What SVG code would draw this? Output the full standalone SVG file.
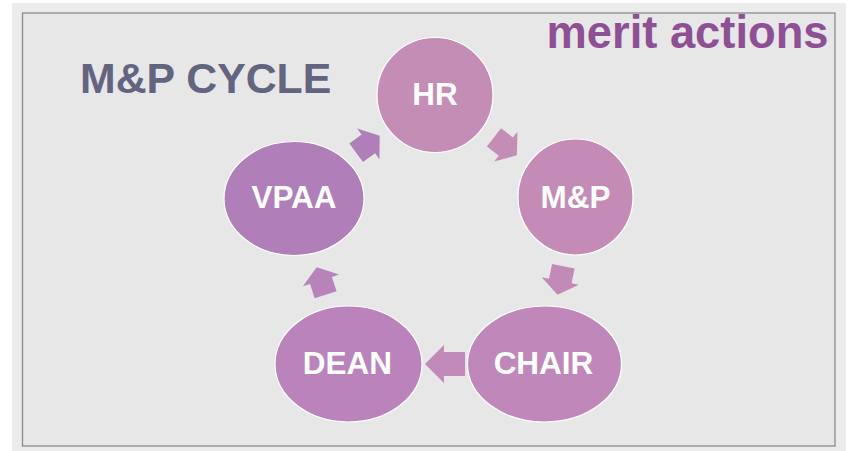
<svg xmlns="http://www.w3.org/2000/svg" width="850" height="451" viewBox="0 0 850 451">
<style>
.node{stroke:#ffffff;stroke-width:1.2}
.lbl{font-family:"Liberation Sans",Arial,sans-serif;font-weight:bold;font-size:31.5px;fill:#ffffff;text-anchor:middle}
.title{font-family:"Liberation Sans",Arial,sans-serif;font-weight:bold}
</style>
<defs>
<path id="arr" d="M-14,-11.5 H1 V-19 L15,0 L1,19 V11.5 H-14 Z"/>
</defs>
<rect x="0" y="0" width="850" height="451" fill="#ffffff"/>
<rect x="12" y="3" width="834" height="448" fill="#ececec"/>
<rect x="22.5" y="13" width="812.5" height="433" fill="#e7e7e7" stroke="#8a8a8a" stroke-width="1.3"/>
<text class="title" x="80" y="92.5" font-size="42.8" fill="#626480">M&amp;P CYCLE</text>
<text class="title" x="828.5" y="47.5" font-size="45.3" fill="#8e4f94" text-anchor="end">merit actions</text>
<g id="connectors">
<use href="#arr" transform="translate(505,146) rotate(38)" fill="#c48db5"/>
<use href="#arr" transform="translate(560.5,280) rotate(101.7)" fill="#c28ab7"/>
<path d="M465,352 H444 V345 L425,364 L444,383 V376 H465 Z" fill="#c189ba"/>
<use href="#arr" transform="translate(321.3,281.4) rotate(-107.9)" fill="#b883bb"/>
<use href="#arr" transform="translate(367.5,144.5) rotate(-36)" fill="#b07eb9"/>
</g>
<g id="hr"><ellipse class="node" cx="435" cy="95" rx="58" ry="57.5" fill="#c48db5"/><text class="lbl" x="435" y="104.5">HR</text></g>
<g id="mp"><ellipse class="node" cx="575.5" cy="197" rx="57.5" ry="58" fill="#c38bb6"/><text class="lbl" x="575.5" y="207.5">M&amp;P</text></g>
<g id="chair"><ellipse class="node" cx="544.5" cy="364" rx="77" ry="58" fill="#c088ba"/><text class="lbl" x="543.5" y="373.5">CHAIR</text></g>
<g id="dean"><ellipse class="node" cx="348.5" cy="364" rx="73.5" ry="58" fill="#bb83bb"/><text class="lbl" x="347.5" y="373.5">DEAN</text></g>
<g id="vpaa"><ellipse class="node" cx="294" cy="198.5" rx="70" ry="57" fill="#b07eb9"/><text class="lbl" x="294" y="208">VPAA</text></g>
</svg>
